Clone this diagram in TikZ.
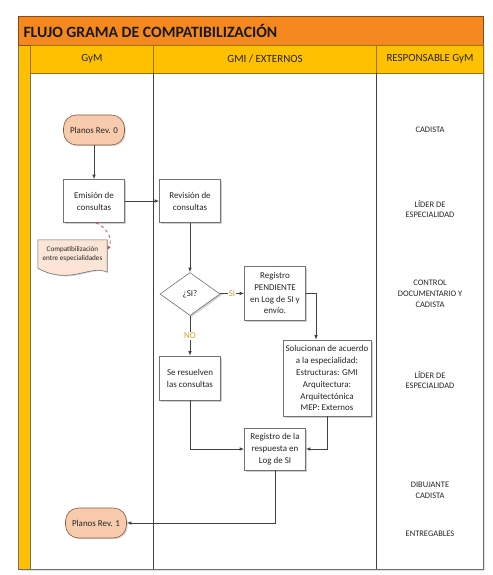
\documentclass[tikz,border=0pt]{standalone}
\usepackage{fontspec}
\setmainfont{Carlito}
\usetikzlibrary{shapes.geometric,arrows.meta,shadows}
\definecolor{titleor}{HTML}{F5891F}
\definecolor{headyel}{HTML}{FFC000}
\definecolor{pillfill}{HTML}{F8CBAD}
\definecolor{pillline}{HTML}{8A5A3C}
\definecolor{docfill}{HTML}{FCE4D6}
\definecolor{labgold}{HTML}{C9A227}
\definecolor{dashred}{HTML}{C0504D}
\definecolor{lineg}{HTML}{404040}
\definecolor{frameg}{HTML}{707070}
\begin{document}
\begin{tikzpicture}[x=1bp,y=-1bp,
  boxtext/.style={font=\fontsize{9}{12}\selectfont, text=black!85, align=center},
  procbox/.style={boxtext, draw=black!55, fill=white, line width=0.6bp,
    drop shadow={shadow xshift=1.5bp, shadow yshift=-1.5bp, fill=black!30, opacity=0.6},
    inner sep=1bp},
  pill/.style={boxtext, draw=pillline, fill=pillfill, line width=0.6bp, rounded corners=13bp,
    minimum width=61bp, minimum height=30bp, inner sep=1bp,
    drop shadow={shadow xshift=1.2bp, shadow yshift=-1.2bp, fill=black!30, opacity=0.5}},
  decis/.style={boxtext, diamond, draw=black!55, fill=white, line width=0.6bp,
    minimum width=60bp, minimum height=43bp, inner sep=0bp,
    drop shadow={shadow xshift=1.5bp, shadow yshift=-1.5bp, fill=black!30, opacity=0.6}},
  flow/.style={draw=lineg, line width=0.8bp, -{Latex[length=4.5bp,width=3.5bp]}},
  yeslab/.style={font=\fontsize{9}{10}\selectfont, text=labgold, fill=white, inner sep=1bp},
  resp/.style={font=\fontsize{8.5}{11}\selectfont, text=black!85, align=center},
  hdr/.style={font=\fontsize{11}{13}\selectfont, text=black!85}
]
\useasboundingbox (0,0) rectangle (493,575);

% frame
\fill[black!12] (19.5,46) rectangle (484.5,570.5);
\fill[white] (18,45) rectangle (483,569);
\fill[headyel] (18,45) rectangle (30,569);
\draw[frameg, line width=0.8bp] (18,45) rectangle (483,569);
\fill[titleor] (18,16) rectangle (483,45);
\draw[black!45!titleor, line width=0.8bp] (18,16) rectangle (483,45);
\node[anchor=west, font=\fontsize{15.8}{17}\selectfont\bfseries, text=black!90] (title) at (20,31) {FLUJO GRAMA DE COMPATIBILIZACIÓN};

\fill[headyel] (30,45) rectangle (483,73);
\draw[black!40!headyel, line width=0.6bp] (30,45) rectangle (483,73);
\draw[black!40!headyel, line width=0.6bp] (153,45) -- (153,73) (376,45) -- (376,73);
\draw[frameg, line width=0.8bp] (30,73) -- (30,569);
\draw[lineg, line width=0.8bp] (153,73) -- (153,569) (376,73) -- (376,569);
\node[hdr] (h1) at (92,59) {GyM};
\node[hdr] (h2) at (265,59) {GMI / EXTERNOS};
\node[hdr] (h3) at (430,59) {RESPONSABLE GyM};

% responsables
\node[resp] (r1) at (430,130) {CADISTA};
\node[resp] (r2) at (430,209) {LÍDER DE\\ESPECIALIDAD};
\node[resp] (r3) at (430,294) {CONTROL\\DOCUMENTARIO Y\\CADISTA};
\node[resp] (r4) at (430,380) {LÍDER DE\\ESPECIALIDAD};
\node[resp] (r5) at (430,490) {DIBUJANTE\\CADISTA};
\node[resp] (r6) at (430,534) {ENTREGABLES};

% nodes
\node[pill] (p0) at (94,130) {Planos Rev. 0};
\node[procbox, minimum width=61bp, minimum height=43bp] (em) at (94,201) {Emisión de\\consultas};
\node[procbox, minimum width=61bp, minimum height=43bp] (rev) at (190,201) {Revisión de\\consultas};
\node[decis] (dia) at (190,294) {¿SI?};
\node[procbox, minimum width=61bp, minimum height=54bp] (reg) at (275,293) {Registro\\PENDIENTE\\en Log de SI y\\envío.};
\node[procbox, minimum width=61bp, minimum height=44bp] (se) at (190,378) {Se resuelven\\las consultas};
\node[procbox, minimum width=88bp, minimum height=76bp] (sol) at (327,378) {Solucionan de acuerdo\\a la especialidad:\\Estructuras: GMI\\Arquitectura:\\Arquitectónica\\MEP: Externos};
\node[procbox, minimum width=61bp, minimum height=42bp] (reg2) at (275,449) {Registro de la\\respuesta en\\Log de SI};
\node[pill] (p1) at (96,523) {Planos Rev. 1};

% document shape
\node[font=\fontsize{7.2}{9.5}\selectfont, text=black!85, align=center, minimum width=69bp, minimum height=28bp, inner sep=1bp] (doc) at (72.5,254) {Compatibilización\\entre especialidades};
\fill[black!30, opacity=0.6, shift={(1.5bp,-1.5bp)}] (doc.north west) -- (doc.north east) -- ([yshift=-4bp]doc.south east)
  .. controls (90,264) and (70,286) .. (doc.south west) -- cycle;
\filldraw[fill=docfill, draw=black!55, line width=0.6bp] (doc.north west) -- (doc.north east) -- ([yshift=-4bp]doc.south east)
  .. controls (90,264) and (70,286) .. (doc.south west) -- cycle;
\node[font=\fontsize{7.2}{9.5}\selectfont, text=black!85, align=center, inner sep=1bp] (doctext) at (doc) {Compatibilización\\entre especialidades};

% connectors
\draw[flow] (p0) -- (em);
\draw[flow] (em) -- (rev);
\draw[flow] (rev) -- (dia);
\draw[flow] (dia) -- node[yeslab] (si) {SI} (reg);
\draw[flow] (dia) -- node[yeslab] (no) {NO} (se);
\draw[flow] (reg.east) -| ([xshift=-11bp]sol.north);
\draw[flow] (se.south) |- (reg2.west);
\draw[flow] (sol.south) |- (reg2.east);
\draw[flow] (reg2.south) |- (p1.east);
\draw[dashred, dashed, line width=0.8bp, -{Latex[length=4bp,width=3.5bp]}]
  ([xshift=2bp]em.south) .. controls (108,228) and (113,240) .. ([yshift=4bp]doc.east);
\end{tikzpicture}
\end{document}
